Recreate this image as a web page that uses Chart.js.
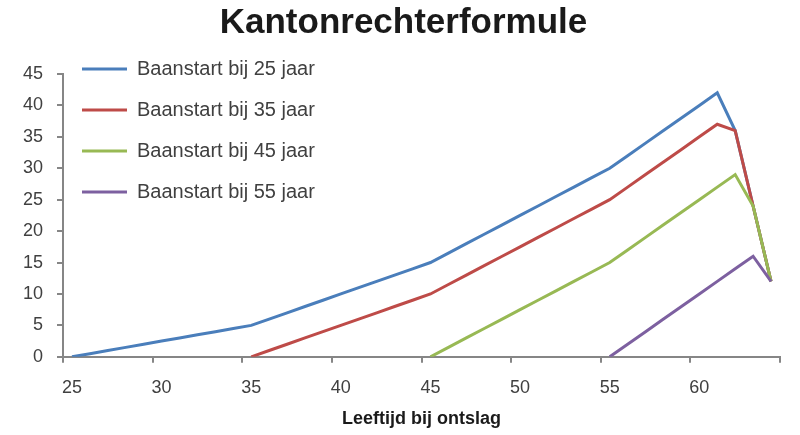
<!DOCTYPE html>
<html lang="nl">
<head>
    <meta charset="UTF-8">
    <title>Kantonrechterformule</title>
    <script src="https://cdn.jsdelivr.net/npm/chart.js"></script>
    <style>
        html, body { margin: 0; padding: 0; background: #fff; }
        .chart-container { width: 800px; height: 435px; }
    </style>
</head>
<body>
    <div class="chart-container">
        <canvas id="kantonChart"></canvas>
    </div>

    <script>
        // leeftijd bij ontslag (25 t/m 64)
        const leeftijden = ['25','26','27','28','29','30','31','32','33','34',
                            '35','36','37','38','39','40','41','42','43','44',
                            '45','46','47','48','49','50','51','52','53','54',
                            '55','56','57','58','59','60','61','62','63','64'];

        const start25 = [0,0.5,1,1.5,2,2.5,3,3.5,4,4.5,
                         5,6,7,8,9,10,11,12,13,14,
                         15,16.5,18,19.5,21,22.5,24,25.5,27,28.5,
                         30,32,34,36,38,40,42,36,24,12];
        const start35 = [null,null,null,null,null,null,null,null,null,null,
                         0,1,2,3,4,5,6,7,8,9,
                         10,11.5,13,14.5,16,17.5,19,20.5,22,23.5,
                         25,27,29,31,33,35,37,36,24,12];
        const start45 = [null,null,null,null,null,null,null,null,null,null,
                         null,null,null,null,null,null,null,null,null,null,
                         0,1.5,3,4.5,6,7.5,9,10.5,12,13.5,
                         15,17,19,21,23,25,27,29,24,12];
        const start55 = [null,null,null,null,null,null,null,null,null,null,
                         null,null,null,null,null,null,null,null,null,null,
                         null,null,null,null,null,null,null,null,null,null,
                         0,2,4,6,8,10,12,14,16,12];

        const fontFam = '"Liberation Sans", Arial, sans-serif';
        const axisGrey = '#868686';

        // legenda linksboven in de grafiek, titel iets naar rechts
        const shiftPlugin = {
            id: 'shiftBoxes',
            afterLayout(chart) {
                const lg = chart.legend;
                if (lg) {
                    const w = lg.width, h = lg.height;
                    lg.left = 61; lg.right = 61 + w;
                    lg.top = 38; lg.bottom = 38 + h;
                }
                const t = chart.titleBlock;
                if (t) { t.left += 9; t.right += 9; }
            }
        };

        window.onload = function() {
            const ctx = document.getElementById('kantonChart').getContext('2d');
            new Chart(ctx, {
                type: 'line',
                data: {
                    labels: leeftijden,
                    datasets: [
                        { label: 'Baanstart bij 25 jaar', data: start25, borderColor: '#4A7EBB', backgroundColor: '#4A7EBB', order: 4 },
                        { label: 'Baanstart bij 35 jaar', data: start35, borderColor: '#BE4B48', backgroundColor: '#BE4B48', order: 3 },
                        { label: 'Baanstart bij 45 jaar', data: start45, borderColor: '#98B954', backgroundColor: '#98B954', order: 2 },
                        { label: 'Baanstart bij 55 jaar', data: start55, borderColor: '#7D60A0', backgroundColor: '#7D60A0', order: 1 }
                    ]
                },
                options: {
                    responsive: true,
                    maintainAspectRatio: false,
                    animation: false,
                    elements: {
                        line: { borderWidth: 3, tension: 0 },
                        point: { radius: 0 }
                    },
                    layout: { padding: { left: 9, right: 20, top: 0, bottom: 5 } },
                    plugins: {
                        title: {
                            display: true,
                            text: 'Kantonrechterformule',
                            color: '#1a1a1a',
                            font: { family: fontFam, size: 35, weight: 'bold' },
                            padding: { top: 2, bottom: 30 }
                        },
                        legend: {
                            position: 'chartArea',
                            align: 'start',
                            labels: {
                                boxWidth: 45,
                                boxHeight: 3,
                                padding: 21,
                                color: '#404040',
                                font: { family: fontFam, size: 20 },
                                sort: (a, b) => a.datasetIndex - b.datasetIndex,
                                generateLabels: (chart) => {
                                    const items = Chart.defaults.plugins.legend.labels.generateLabels(chart);
                                    items.forEach(it => { it.lineWidth = 0; });
                                    return items;
                                }
                            }
                        },
                        tooltip: { enabled: false }
                    },
                    scales: {
                        x: {
                            type: 'category',
                            offset: true,
                            title: {
                                display: true,
                                text: 'Leeftijd bij ontslag',
                                color: '#1a1a1a',
                                font: { family: fontFam, size: 18, weight: 'bold' },
                                padding: { top: -4, bottom: 0 }
                            },
                            border: { color: axisGrey, width: 2 },
                            grid: {
                                offset: true,
                                drawOnChartArea: false,
                                drawTicks: true,
                                tickLength: 6,
                                color: (c) => (c.index === undefined || c.index % 5 === 0) ? axisGrey : 'rgba(0,0,0,0)',
                                lineWidth: 2
                            },
                            ticks: {
                                autoSkip: false,
                                maxRotation: 0,
                                padding: 14,
                                color: '#404040',
                                font: { family: fontFam, size: 18 },
                                callback: function(value) {
                                    const lbl = this.getLabelForValue(value);
                                    return Number(lbl) % 5 === 0 ? lbl : '';
                                }
                            }
                        },
                        y: {
                            min: 0,
                            max: 45,
                            border: { color: axisGrey, width: 2 },
                            grid: {
                                drawOnChartArea: false,
                                drawTicks: true,
                                tickLength: 6,
                                color: axisGrey,
                                lineWidth: 2
                            },
                            ticks: {
                                stepSize: 5,
                                padding: 14,
                                color: '#404040',
                                font: { family: fontFam, size: 18 }
                            }
                        }
                    }
                },
                plugins: [shiftPlugin]
            });
        };
    </script>
</body>
</html>
